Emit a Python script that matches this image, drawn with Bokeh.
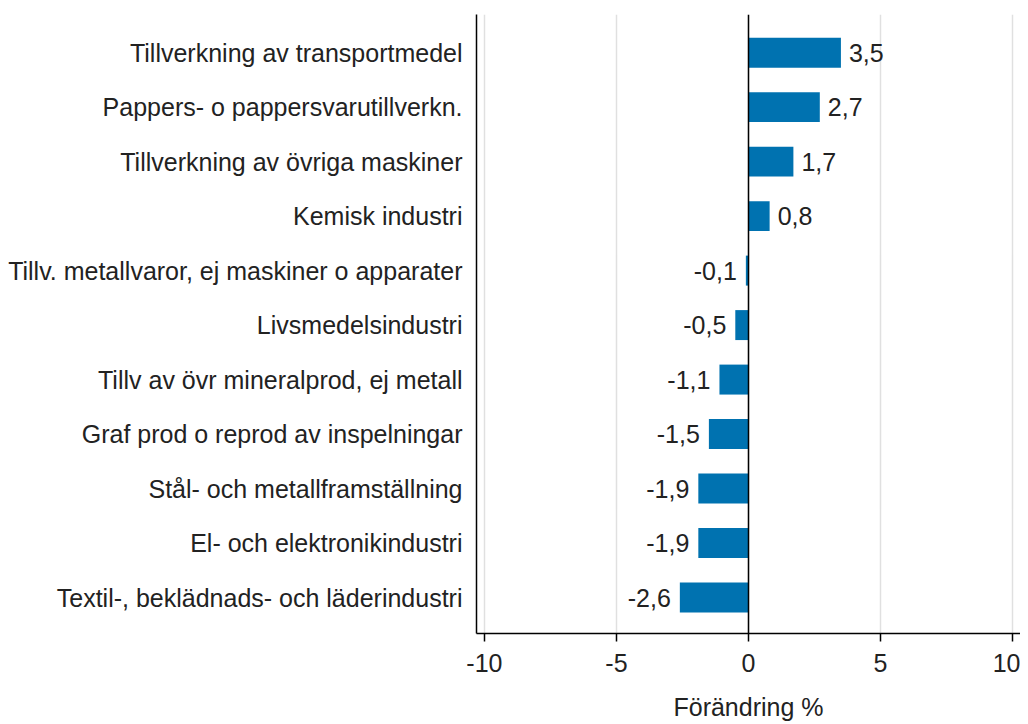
from bokeh.plotting import figure
from bokeh.models import ColumnDataSource, Range1d, FixedTicker, Span, LabelSet
from bokeh.core.properties import value
from bokeh.embed import file_html
from bokeh.resources import INLINE

categories = [
    "Tillverkning av transportmedel",
    "Pappers- o pappersvarutillverkn.",
    "Tillverkning av övriga maskiner",
    "Kemisk industri",
    "Tillv. metallvaror, ej maskiner o apparater",
    "Livsmedelsindustri",
    "Tillv av övr mineralprod, ej metall",
    "Graf prod o reprod av inspelningar",
    "Stål- och metallframställning",
    "El- och elektronikindustri",
    "Textil-, beklädnads- och läderindustri",
]
values = [3.5, 2.7, 1.7, 0.8, -0.1, -0.5, -1.1, -1.5, -1.9, -1.9, -2.6]
x_ticks = [-10, -5, 0, 5, 10]
x_tick_labels = ["-10", "-5", "0", "5", "10"]
x_title = "Förändring %"

FONT = "Liberation Sans"
FS = "25px"
TXT = "#222222"
BAR = "#0072B0"

n = len(categories)
ypos = [n - 1 - i for i in range(n)]
labels = [f"{v:.1f}".replace(".", ",") for v in values]

pos = [i for i, v in enumerate(values) if v >= 0]
neg = [i for i, v in enumerate(values) if v < 0]

src = ColumnDataSource(dict(y=ypos, v=values, lab=labels))
src_pos = ColumnDataSource(dict(y=[ypos[i] for i in pos], v=[values[i] for i in pos], lab=[labels[i] for i in pos]))
src_neg = ColumnDataSource(dict(y=[ypos[i] for i in neg], v=[values[i] for i in neg], lab=[labels[i] for i in neg]))

p = figure(width=1020, height=724, output_backend="svg", toolbar_location=None,
           x_range=Range1d(-10.3, 10.3), y_range=Range1d(-0.66, n - 1 + 0.7),
           min_border_left=476, min_border_right=0, min_border_top=14, min_border_bottom=91)
p.outline_line_color = None
p.background_fill_color = "white"

p.hbar(y="y", left=0, right="v", height=0.55, source=src, fill_color=BAR, line_color=None)

p.add_layout(Span(location=0, dimension="height", line_color="black", line_width=1.5))

p.add_layout(LabelSet(x="v", y="y", text="lab", source=src_pos, x_offset=8, text_align="left",
                      text_baseline="middle", text_font=value(FONT), text_font_size=FS, text_color=TXT))
p.add_layout(LabelSet(x="v", y="y", text="lab", source=src_neg, x_offset=-9, text_align="right",
                      text_baseline="middle", text_font=value(FONT), text_font_size=FS, text_color=TXT))

# x axis
p.xaxis.ticker = FixedTicker(ticks=x_ticks)
p.xaxis.major_label_overrides = {t: s for t, s in zip(x_ticks, x_tick_labels)}
p.xaxis.axis_label = x_title
p.xaxis.axis_label_text_font = FONT
p.xaxis.axis_label_text_font_size = FS
p.xaxis.axis_label_text_font_style = "normal"
p.xaxis.axis_label_text_color = TXT
p.xaxis.axis_label_standoff = 18
p.xaxis.major_label_text_font = FONT
p.xaxis.major_label_text_font_size = FS
p.xaxis.major_label_text_color = TXT
p.xaxis.major_label_standoff = 12
p.xaxis.axis_line_color = "black"
p.xaxis.axis_line_width = 1.5
p.xaxis.major_tick_line_color = "black"
p.xaxis.major_tick_line_width = 1.5
p.xaxis.major_tick_out = 8
p.xaxis.major_tick_in = 0
p.xaxis.minor_tick_line_color = None

# y axis
p.yaxis.ticker = FixedTicker(ticks=ypos)
p.yaxis.major_label_overrides = {y: c for y, c in zip(ypos, categories)}
p.yaxis.major_label_text_font = FONT
p.yaxis.major_label_text_font_size = FS
p.yaxis.major_label_text_color = TXT
p.yaxis.major_label_standoff = 8
p.yaxis.axis_line_color = "black"
p.yaxis.axis_line_width = 1.5
p.yaxis.major_tick_line_color = None
p.yaxis.minor_tick_line_color = None

p.xgrid.ticker = FixedTicker(ticks=x_ticks)
p.xgrid.grid_line_color = "#e0e0e0"
p.xgrid.grid_line_width = 1.5
p.ygrid.grid_line_color = None

open("out.html", "w").write(file_html(p, INLINE))
